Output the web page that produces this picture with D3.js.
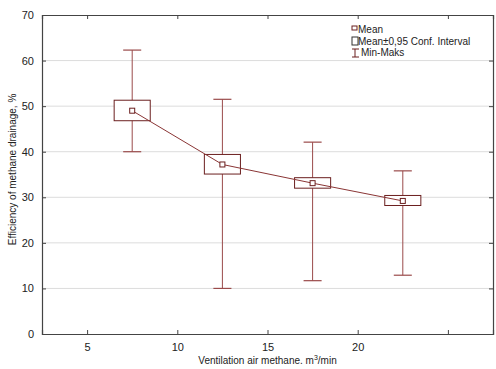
<!DOCTYPE html>
<html>
<head>
<meta charset="utf-8">
<script src="https://cdn.jsdelivr.net/npm/d3@7"></script>
<style>
  body { margin: 0; background: #fff; }
  text { font-family: "Liberation Sans", Arial, sans-serif; fill: #222; }
</style>
</head>
<body>
<div id="viz"></div>
<script>
// group positions on the x axis (m3/min)
const groups = [7.5, 12.5, 17.5, 22.5];
const means = [49.0, 37.2, 33.1, 29.2];
const ciLow = [46.8, 35.1, 32.0, 28.2];
const ciHigh = [51.3, 39.4, 34.3, 30.4];
const mins = [40.0, 10.0, 11.7, 12.9];
const maxs = [62.3, 51.5, 42.1, 35.8];
const xTicks = [5, 10, 15, 20, 25];
const xTickLabels = ['5', '10', '15', '20', ''];
const yTicks = [0, 10, 20, 30, 40, 50, 60, 70];
const legendLabels = ['Mean', 'Mean±0,95 Conf. Interval', 'Min-Maks'];

const width = 496;
const height = 369;
const margin = { top: 15, right: 3, bottom: 35, left: 42 };

const svg = d3.select('#viz')
  .append('svg')
  .attr('width', width)
  .attr('height', height);

const x = d3.scaleLinear()
  .domain([2.5, 27.5])
  .range([margin.left, width - margin.right]);

const y = d3.scaleLinear()
  .domain([0, 70])
  .range([height - margin.bottom, margin.top]);

const data = groups.map((g, i) => ({
  x: g, mean: means[i], lo: ciLow[i], hi: ciHigh[i], min: mins[i], max: maxs[i]
}));

// grid
svg.append('g')
  .selectAll('line')
  .data(yTicks.slice(1, -1))
  .enter()
  .append('line')
  .attr('x1', margin.left)
  .attr('x2', width - margin.right)
  .attr('y1', d => y(d))
  .attr('y2', d => y(d))
  .attr('stroke', '#dcdcdc')
  .attr('stroke-width', 1);

// axes with inner ticks
const axisColor = '#444';
const axBottom = svg.append('g')
  .attr('transform', `translate(0,${y(0)})`)
  .call(d3.axisBottom(x).tickValues(xTicks).tickSize(-4).tickPadding(9)
    .tickFormat((d, i) => xTickLabels[i]));
const axTop = svg.append('g')
  .attr('transform', `translate(0,${y(70)})`)
  .call(d3.axisTop(x).tickValues(xTicks).tickSize(-4).tickFormat(''));
const axLeft = svg.append('g')
  .attr('transform', `translate(${x(2.5)},0)`)
  .call(d3.axisLeft(y).tickValues(yTicks).tickSize(-4).tickPadding(8));
const axRight = svg.append('g')
  .attr('transform', `translate(${x(27.5)},0)`)
  .call(d3.axisRight(y).tickValues(yTicks).tickSize(-4).tickFormat(''));

[axBottom, axTop, axLeft, axRight].forEach(a => {
  a.select('.domain').attr('stroke', axisColor).attr('stroke-width', 1.2);
  a.selectAll('.tick line').attr('stroke', axisColor);
  a.selectAll('text')
    .style('font-family', '"Liberation Sans", Arial, sans-serif')
    .style('font-size', '11px')
    .attr('fill', '#222');
});

const whisker = '#9a4a4a';
const boxColor = '#6b1f1f';
const capHalf = (x(1) - x(0)) / 2;
const boxHalf = (x(2) - x(0)) / 2;

// whiskers
svg.selectAll('.whisker')
  .data(data)
  .enter()
  .append('line')
  .attr('class', 'whisker')
  .attr('x1', d => x(d.x))
  .attr('x2', d => x(d.x))
  .attr('y1', d => y(d.min))
  .attr('y2', d => y(d.max))
  .attr('stroke', whisker)
  .attr('stroke-width', 1);

svg.selectAll('.capTop')
  .data(data)
  .enter()
  .append('line')
  .attr('x1', d => x(d.x) - capHalf)
  .attr('x2', d => x(d.x) + capHalf)
  .attr('y1', d => y(d.max))
  .attr('y2', d => y(d.max))
  .attr('stroke', whisker)
  .attr('stroke-width', 1.2);

svg.selectAll('.capBot')
  .data(data)
  .enter()
  .append('line')
  .attr('x1', d => x(d.x) - capHalf)
  .attr('x2', d => x(d.x) + capHalf)
  .attr('y1', d => y(d.min))
  .attr('y2', d => y(d.min))
  .attr('stroke', whisker)
  .attr('stroke-width', 1.2);

// confidence boxes
svg.selectAll('.box')
  .data(data)
  .enter()
  .append('rect')
  .attr('x', d => x(d.x) - boxHalf)
  .attr('width', boxHalf * 2)
  .attr('y', d => y(d.hi))
  .attr('height', d => y(d.lo) - y(d.hi))
  .attr('fill', '#fff')
  .attr('stroke', boxColor)
  .attr('stroke-width', 1);

// mean line
svg.append('path')
  .datum(data)
  .attr('fill', 'none')
  .attr('stroke', '#8a3535')
  .attr('stroke-width', 1)
  .attr('d', d3.line().x(d => x(d.x)).y(d => y(d.mean)));

svg.selectAll('.mean')
  .data(data)
  .enter()
  .append('rect')
  .attr('x', d => x(d.x) - 2.5)
  .attr('y', d => y(d.mean) - 2.5)
  .attr('width', 5)
  .attr('height', 5)
  .attr('fill', '#fff')
  .attr('stroke', boxColor)
  .attr('stroke-width', 1);

// legend
const lg = svg.append('g').attr('transform', 'translate(352,29)');
lg.append('rect').attr('x', 0).attr('y', -3).attr('width', 5).attr('height', 4)
  .attr('fill', '#fff').attr('stroke', boxColor);
lg.append('rect').attr('x', 0).attr('y', 8).attr('width', 6).attr('height', 8)
  .attr('fill', '#fff').attr('stroke', '#333');
lg.append('line').attr('x1', 3).attr('x2', 3).attr('y1', 20).attr('y2', 28).attr('stroke', boxColor);
lg.append('line').attr('x1', 0).attr('x2', 7).attr('y1', 20).attr('y2', 20).attr('stroke', boxColor);
lg.append('line').attr('x1', 0).attr('x2', 7).attr('y1', 28).attr('y2', 28).attr('stroke', boxColor);

lg.selectAll('text')
  .data(legendLabels)
  .enter()
  .append('text')
  .attr('x', (d, i) => (i === 2 ? 9 : 6))
  .attr('y', (d, i) => 4 + i * 11.7)
  .style('font-size', '10px')
  .text(d => d);

// axis titles
svg.append('text')
  .attr('x', x(15))
  .attr('y', 364)
  .attr('text-anchor', 'middle')
  .style('font-size', '10px')
  .html('Ventilation air methane. m<tspan dy="-4" font-size="7px">3</tspan><tspan dy="4">/min</tspan>');

svg.append('text')
  .attr('transform', `translate(16,${y(35) - 5}) rotate(-90)`)
  .attr('text-anchor', 'middle')
  .style('font-size', '10px')
  .text('Efficiency of methane drainage, %');
</script>
</body>
</html>
